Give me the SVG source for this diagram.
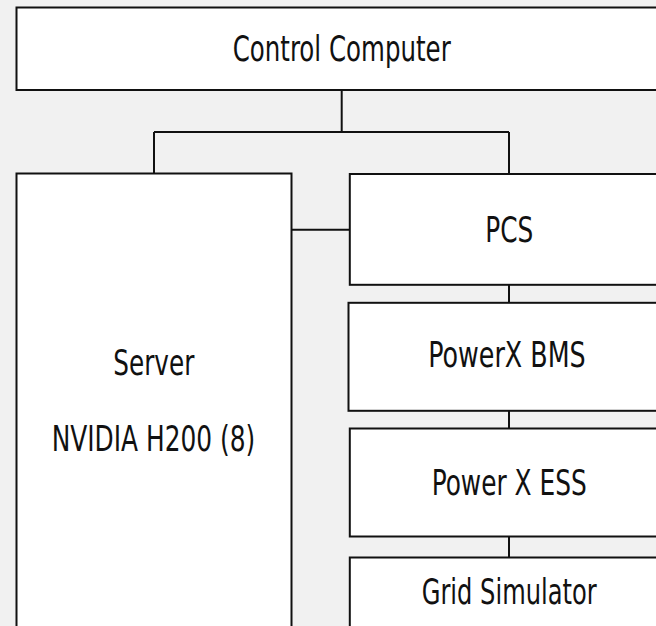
<svg xmlns="http://www.w3.org/2000/svg" width="656" height="626" viewBox="0 0 656 626">
<style>
.bg{fill:#f1f1f1}
.box{fill:#ffffff;stroke:#111111;stroke-width:2}
.lbl{font-family:"Liberation Sans Narrow","DejaVu Sans Condensed","Liberation Sans",sans-serif;font-stretch:condensed;font-size:36px;fill:#111111;text-anchor:middle}
.conn{fill:none;stroke:#111111;stroke-width:2}
</style>
<rect class="bg" x="0" y="0" width="656" height="626"/>
<g id="connectors">
<path class="conn" d="M341.7 90 V132"/>
<path class="conn" d="M154 132 H509"/>
<path class="conn" d="M154 132 V173.5"/>
<path class="conn" d="M509 132 V174"/>
<path class="conn" d="M291.5 229.8 H349.8"/>
<path class="conn" d="M509 284.8 V302.8"/>
<path class="conn" d="M509 410.8 V428.5"/>
<path class="conn" d="M509 536.5 V557.5"/>
</g>
<g id="control-computer">
<rect class="box" x="16.5" y="7.5" width="650.5" height="82.5"/>
<text class="lbl" x="341.7" y="61" textLength="218" lengthAdjust="spacingAndGlyphs">Control Computer</text>
</g>
<g id="server">
<rect class="box" x="16.5" y="173.5" width="275" height="470"/>
<text class="lbl" x="153.8" y="375" textLength="81" lengthAdjust="spacingAndGlyphs">Server</text>
<text class="lbl" x="153.5" y="451" textLength="203.6" lengthAdjust="spacingAndGlyphs">NVIDIA H200 (8)</text>
</g>
<g id="pcs">
<rect class="box" x="349.8" y="174" width="318" height="110.8"/>
<text class="lbl" x="509.2" y="241.5" textLength="48" lengthAdjust="spacingAndGlyphs">PCS</text>
</g>
<g id="powerx-bms">
<rect class="box" x="348.5" y="302.8" width="320" height="108"/>
<text class="lbl" x="507" y="366.5" textLength="157.4" lengthAdjust="spacingAndGlyphs">PowerX BMS</text>
</g>
<g id="power-x-ess">
<rect class="box" x="349.8" y="428.5" width="318" height="108"/>
<text class="lbl" x="509.2" y="495" textLength="155" lengthAdjust="spacingAndGlyphs">Power X ESS</text>
</g>
<g id="grid-simulator">
<rect class="box" x="349.8" y="557.5" width="318" height="100"/>
<text class="lbl" x="509.2" y="604" textLength="175" lengthAdjust="spacingAndGlyphs">Grid Simulator</text>
</g>
</svg>
